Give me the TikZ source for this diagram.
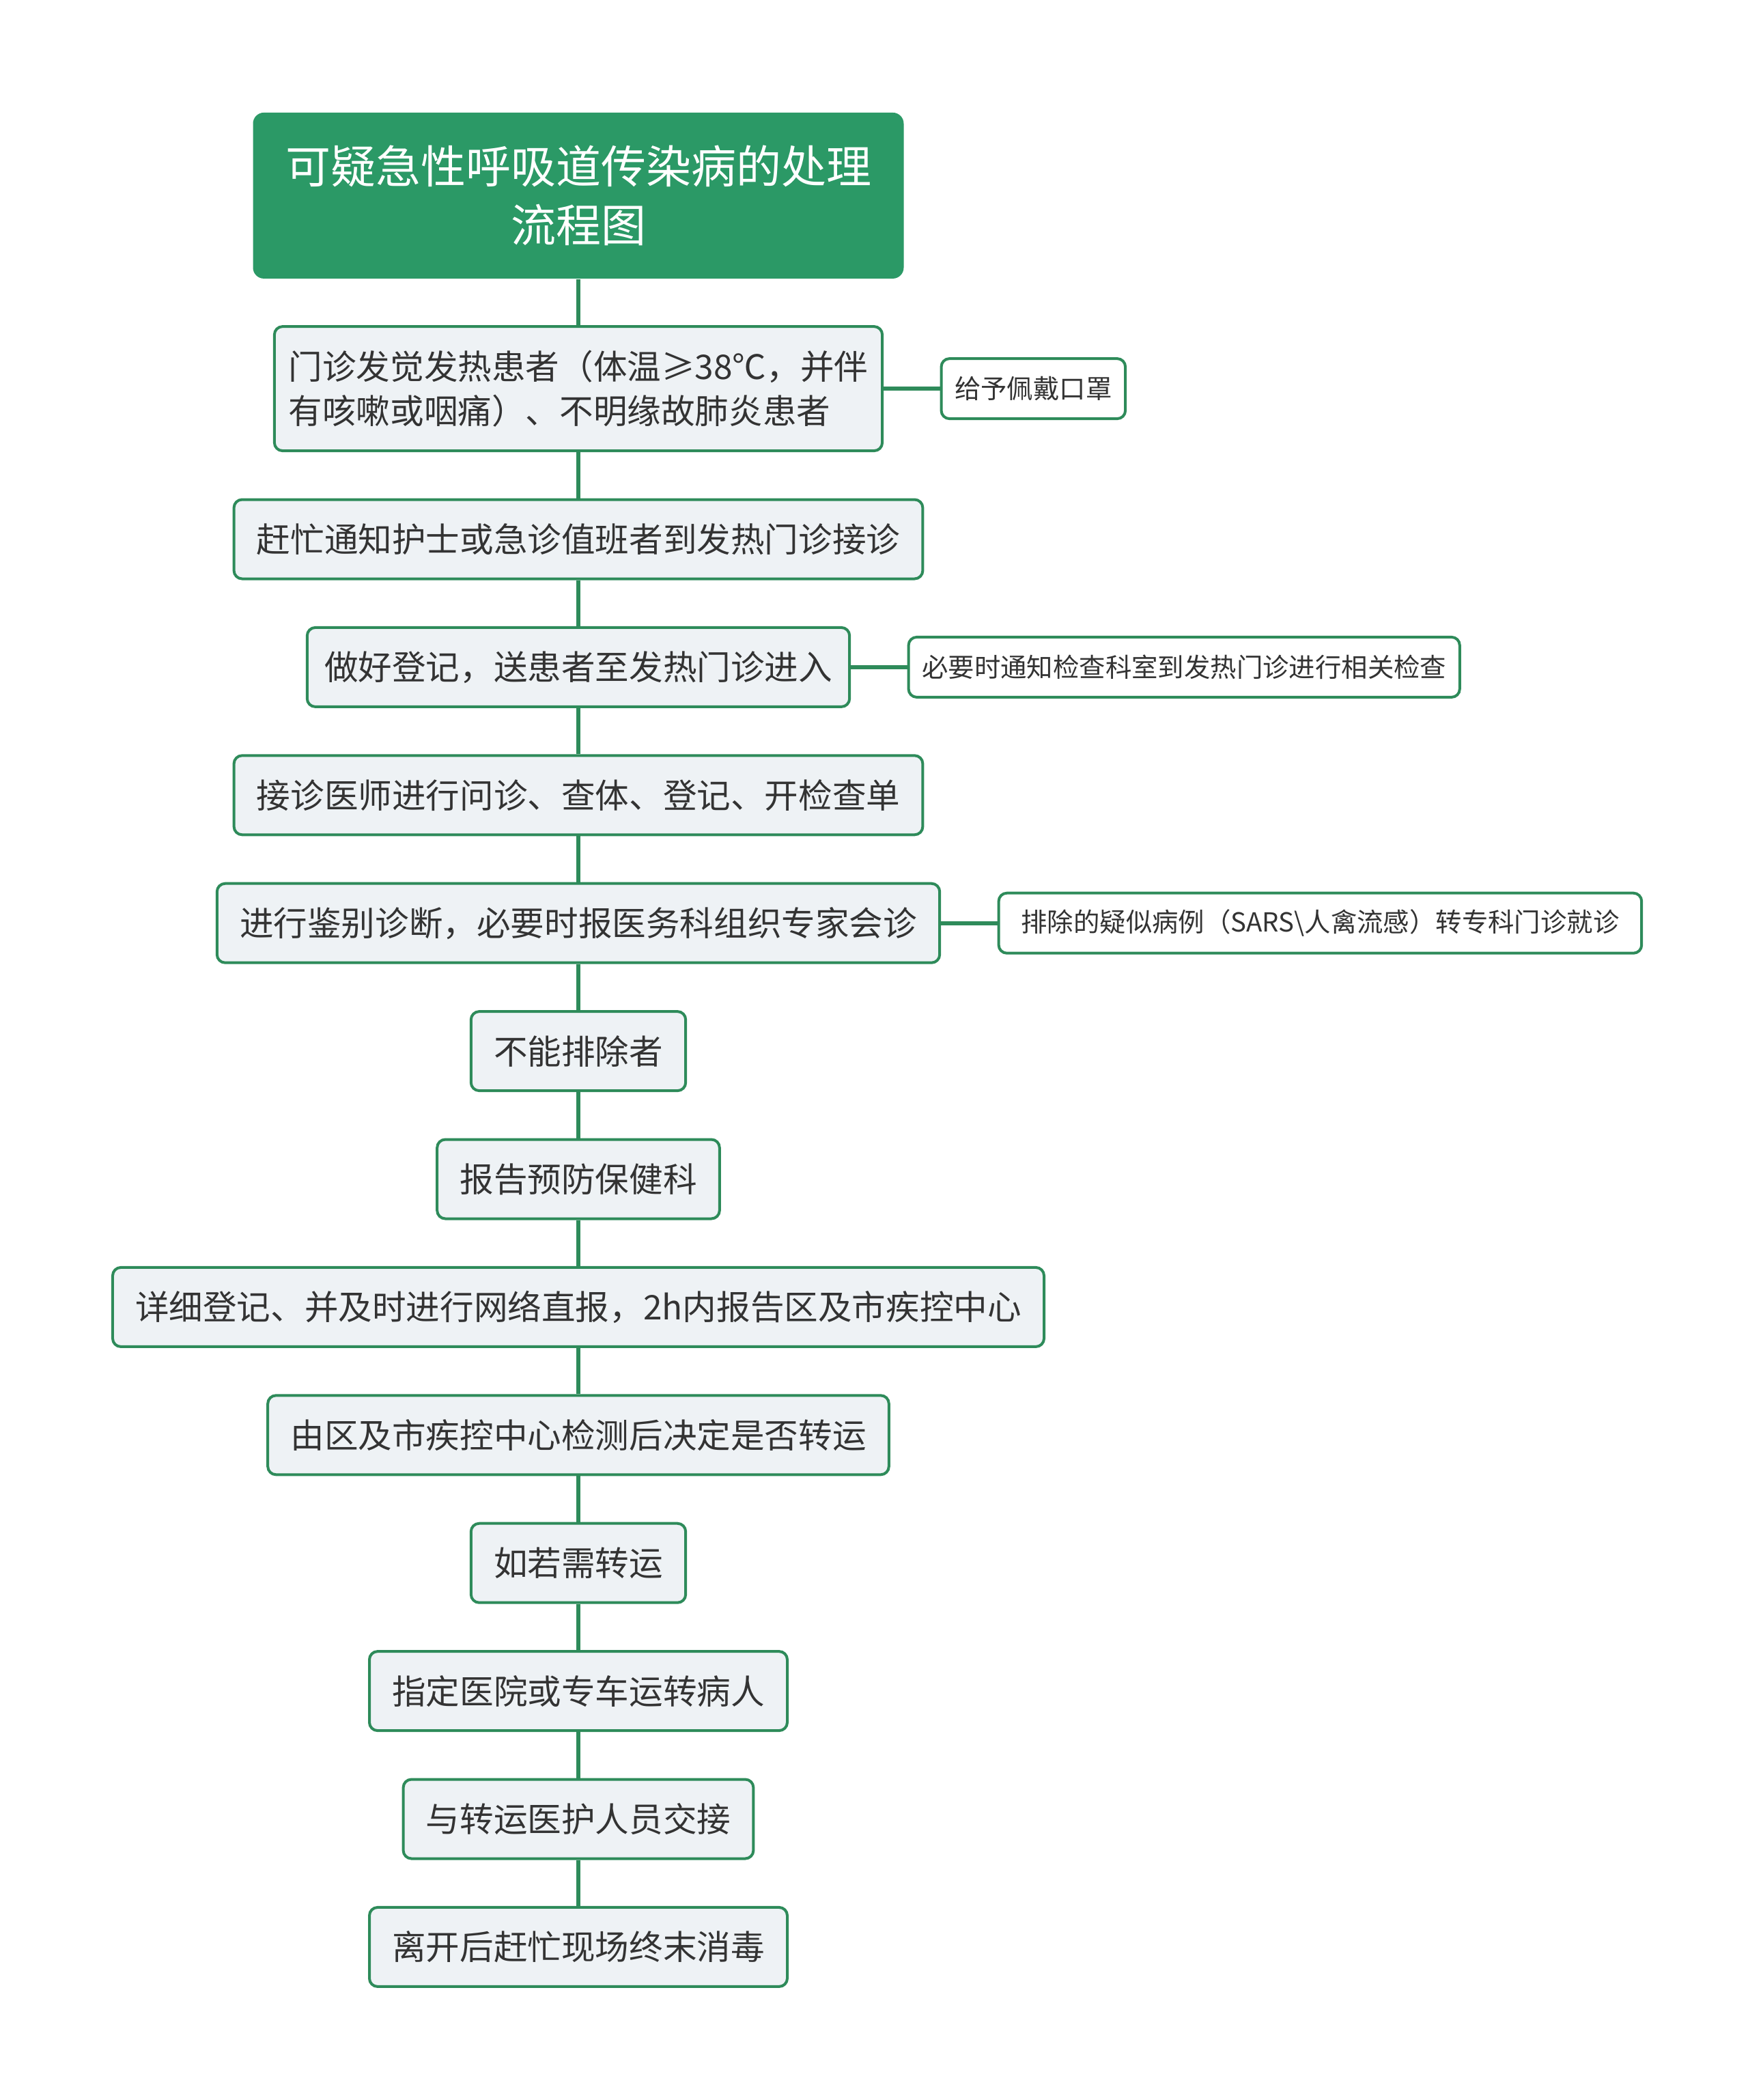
\documentclass[tikz,border=0pt]{standalone}
\usepackage{fontspec}
\setmainfont{Noto Sans CJK SC}
\usepackage{xcolor}
\usepackage{tikz}
\usetikzlibrary{positioning}
\definecolor{titlegreen}{HTML}{2B9966}
\definecolor{linegreen}{HTML}{2E8B5A}
\definecolor{boxgray}{HTML}{EEF2F5}
\definecolor{textdark}{HTML}{333333}

\begin{document}
\begin{tikzpicture}[
  font=\fontsize{12.4pt}{16.2pt}\selectfont,
  node distance=16.85pt,
  titlebox/.style={fill=titlegreen, rounded corners=4pt, text=white, align=center, minimum width=238.25pt, minimum height=60.75pt, font=\fontsize{16.5pt}{21.6pt}\selectfont},
  box/.style={draw=linegreen, line width=1pt, fill=boxgray, rounded corners=3pt, text=textdark, align=left, inner xsep=8.3pt, minimum height=29pt},
  sidebox/.style={draw=linegreen, line width=1pt, fill=white, rounded corners=3pt, text=textdark, inner xsep=4.9pt, minimum height=22pt, font=\fontsize{9.6pt}{12pt}\selectfont},
  link/.style={linegreen, line width=1.5pt}
]
\useasboundingbox (0,0) rectangle (640pt,-768.75pt);
\node[titlebox] (title) at (211.75pt,-71.6pt) {可疑急性呼吸道传染病的处理\\流程图};
\node[box, minimum height=45.5pt, inner xsep=5.2pt, below=of title] (fever) {门诊发觉发热患者（体温≥38℃，并伴\\有咳嗽或咽痛）、不明缘故肺炎患者};
\node[box, below=of fever] (notify) {赶忙通知护士或急诊值班者到发热门诊接诊};
\node[box, inner xsep=6.3pt, below=of notify] (register) {做好登记，送患者至发热门诊进入};
\node[box, below=of register] (doctor) {接诊医师进行问诊、查体、登记、开检查单};
\node[box, below=of doctor] (diag) {进行鉴别诊断，必要时报医务科组织专家会诊};
\node[box, below=of diag] (notexcl) {不能排除者};
\node[box, below=of notexcl] (report) {报告预防保健科};
\node[box, below=of report] (netrep) {详细登记、并及时进行网络直报，2h内报告区及市疾控中心};
\node[box, below=of netrep] (decide) {由区及市疾控中心检测后决定是否转运};
\node[box, below=of decide] (needtr) {如若需转运};
\node[box, below=of needtr] (hosp) {指定医院或专车运转病人};
\node[box, below=of hosp] (handover) {与转运医护人员交接};
\node[box, below=of handover] (disinf) {离开后赶忙现场终末消毒};
\node[sidebox, right=20.6pt of fever] (mask) {给予佩戴口罩};
\node[sidebox, right=20.6pt of register] (check) {必要时通知检查科室到发热门诊进行相关检查};
\node[sidebox, minimum width=235.4pt, right=20.6pt of diag] (exclude) {排除的疑似病例（SARS\textbackslash 人禽流感）转专科门诊就诊};
\foreach \a/\b in {title/fever, fever/notify, notify/register, register/doctor, doctor/diag, diag/notexcl, notexcl/report, report/netrep, netrep/decide, decide/needtr, needtr/hosp, hosp/handover, handover/disinf}
  \draw[link] (\a) -- (\b);
\draw[link] (fever) -- (mask);
\draw[link] (register) -- (check);
\draw[link] (diag) -- (exclude);
\end{tikzpicture}
\end{document}
